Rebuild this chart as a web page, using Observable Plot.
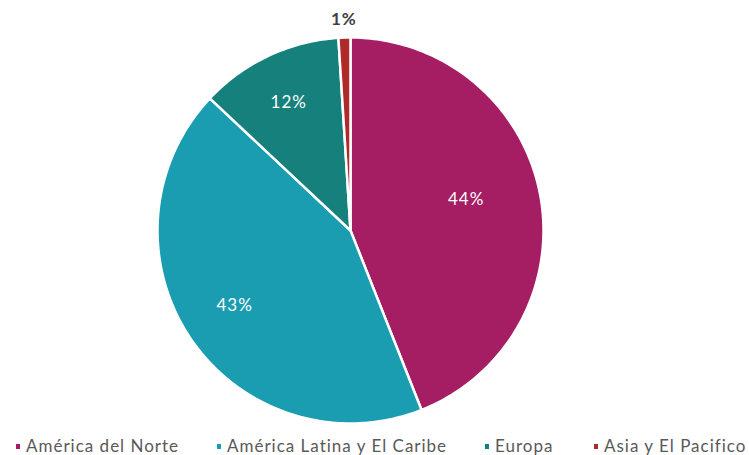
<!DOCTYPE html>
<html>
<head>
<meta charset="utf-8">
<script src="https://cdn.jsdelivr.net/npm/d3@7"></script>
<script src="https://cdn.jsdelivr.net/npm/@observablehq/plot@0.6"></script>
<style>
  html, body { margin: 0; padding: 0; background: #fff; }
  #wrap { position: relative; width: 749px; height: 455px; font-family: Lato, "Open Sans", sans-serif; }
  #legend { position: absolute; left: 0; top: 435px; width: 749px; height: 22px; font-size: 17px; letter-spacing: 1px; color: #595959; }
  .item { position: absolute; top: 0; white-space: nowrap; line-height: 22px; }
  .sw { display: inline-block; width: 4px; height: 5px; margin-right: 6px; vertical-align: middle; position: relative; top: -1px; }
</style>
</head>
<body>
<div id="wrap"><div id="chart"></div><div id="legend"></div></div>
<script>
const regions = ["América del Norte", "América Latina y El Caribe", "Europa", "Asia y El Pacifico"];
const shares = [44, 43, 12, 1];
const labels = ["44%", "43%", "12%", "1%"];
const colors = ["#A51D62", "#1A9DB1", "#16807C", "#B02A2C"];

// label placement styling (radius fraction, angular nudge in degrees)
const labelRadius = [0.62, 0.715, 0.735, 1.095];
const labelNudge = [-4.2, 1.3, -0.6, 0];
const legendX = [16, 217, 485, 594];

const total = d3.sum(shares);
let acc = 0;
const slices = shares.map((v, i) => {
  const a0 = acc / total * 2 * Math.PI;
  acc += v;
  const a1 = acc / total * 2 * Math.PI;
  return {region: regions[i], a0, a1, mid: (a0 + a1) / 2, i};
});

const poly = [];
for (const s of slices) {
  poly.push({region: s.region, x: 0, y: 0});
  const n = Math.max(2, Math.ceil((s.a1 - s.a0) / (Math.PI / 180)));
  for (let k = 0; k <= n; k++) {
    const a = s.a0 + (s.a1 - s.a0) * k / n;
    poly.push({region: s.region, x: Math.sin(a), y: Math.cos(a)});
  }
}

const labelData = slices.map(s => {
  const a = s.mid + labelNudge[s.i] * Math.PI / 180;
  return {
    label: labels[s.i],
    x: labelRadius[s.i] * Math.sin(a),
    y: labelRadius[s.i] * Math.cos(a),
    outside: labelRadius[s.i] > 1
  };
});

const chart = Plot.plot({
  width: 749,
  height: 432,
  margin: 0,
  x: {domain: [-1, 1], range: [157, 543], axis: null},
  y: {domain: [-1, 1], range: [423, 37], axis: null},
  color: {domain: regions, range: colors},
  style: {fontFamily: "Lato, 'Open Sans', sans-serif", background: "white", letterSpacing: "1px"},
  marks: [
    Plot.line(poly, {x: "x", y: "y", z: "region", fill: "region", stroke: "white", strokeWidth: 2.5, curve: "linear-closed", strokeLinejoin: "round"}),
    Plot.text(labelData.filter(d => !d.outside), {x: "x", y: "y", text: "label", fill: "white", fontSize: 17}),
    Plot.text(labelData.filter(d => d.outside), {x: "x", y: "y", text: "label", fill: "#404040", fontSize: 17, fontWeight: "bold"})
  ]
});
document.getElementById("chart").appendChild(chart);

const legend = document.getElementById("legend");
regions.forEach((r, i) => {
  const it = document.createElement("div");
  it.className = "item";
  it.style.left = legendX[i] + "px";
  const sw = document.createElement("span");
  sw.className = "sw";
  sw.style.background = colors[i];
  it.appendChild(sw);
  it.appendChild(document.createTextNode(r));
  legend.appendChild(it);
});
</script>
</body>
</html>
